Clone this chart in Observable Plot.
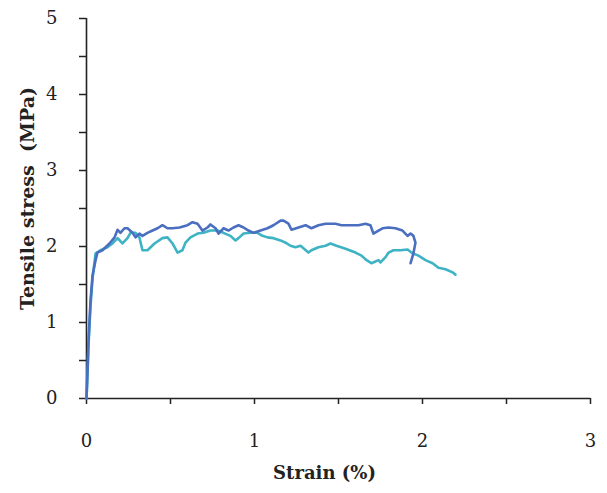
<!DOCTYPE html>
<html>
<head>
<meta charset="utf-8">
<script src="https://cdn.jsdelivr.net/npm/d3@7"></script>
<script src="https://cdn.jsdelivr.net/npm/@observablehq/plot@0.6"></script>
<style>
  html, body { margin: 0; padding: 0; background: #fff; }
</style>
</head>
<body>
<div id="chart"></div>
<script>
const xTicks = [0, 0.5, 1, 1.5, 2, 2.5, 3];
const yTicks = [0, 0.5, 1, 1.5, 2, 2.5, 3, 3.5, 4, 4.5, 5];
const xLabel = "Strain (%)";
const yLabel = "Tensile stress  (MPa)";

const blueStrain = [0, 0.006, 0.012, 0.024, 0.036, 0.054, 0.065, 0.095, 0.137, 0.167, 0.185, 0.202, 0.226, 0.244, 0.274, 0.292, 0.315, 0.333, 0.363, 0.393, 0.423, 0.452, 0.482, 0.512, 0.554, 0.601, 0.631, 0.661, 0.690, 0.720, 0.738, 0.768, 0.786, 0.815, 0.845, 0.875, 0.905, 0.935, 0.964, 0.994, 1.036, 1.077, 1.113, 1.155, 1.173, 1.202, 1.220, 1.262, 1.304, 1.339, 1.381, 1.423, 1.482, 1.518, 1.577, 1.619, 1.661, 1.690, 1.708, 1.738, 1.762, 1.798, 1.839, 1.881, 1.911, 1.929, 1.946, 1.958, 1.946, 1.929];
const blueStress = [0, 0.37, 0.76, 1.29, 1.62, 1.82, 1.92, 1.95, 2.04, 2.12, 2.22, 2.18, 2.24, 2.24, 2.18, 2.12, 2.17, 2.14, 2.18, 2.21, 2.24, 2.28, 2.24, 2.24, 2.25, 2.28, 2.32, 2.30, 2.21, 2.25, 2.29, 2.24, 2.17, 2.24, 2.21, 2.25, 2.28, 2.25, 2.21, 2.18, 2.21, 2.24, 2.28, 2.34, 2.34, 2.30, 2.22, 2.25, 2.28, 2.24, 2.28, 2.30, 2.30, 2.28, 2.28, 2.28, 2.30, 2.28, 2.17, 2.21, 2.24, 2.25, 2.24, 2.21, 2.14, 2.17, 2.14, 2.05, 1.91, 1.78];

const cyanStrain = [0, 0.006, 0.012, 0.024, 0.036, 0.054, 0.083, 0.125, 0.155, 0.185, 0.214, 0.244, 0.262, 0.292, 0.315, 0.333, 0.363, 0.405, 0.452, 0.482, 0.512, 0.542, 0.571, 0.589, 0.619, 0.661, 0.696, 0.738, 0.780, 0.815, 0.857, 0.887, 0.905, 0.935, 0.976, 1.018, 1.048, 1.077, 1.113, 1.155, 1.185, 1.214, 1.244, 1.274, 1.321, 1.339, 1.381, 1.423, 1.452, 1.488, 1.542, 1.601, 1.637, 1.667, 1.696, 1.738, 1.750, 1.780, 1.798, 1.827, 1.869, 1.911, 1.940, 1.976, 2.018, 2.060, 2.095, 2.137, 2.179, 2.196];
const cyanStress = [0, 0.30, 0.70, 1.22, 1.58, 1.91, 1.95, 1.99, 2.04, 2.11, 2.04, 2.11, 2.18, 2.18, 2.12, 1.95, 1.95, 2.04, 2.11, 2.12, 2.04, 1.92, 1.95, 2.05, 2.12, 2.17, 2.18, 2.21, 2.21, 2.18, 2.14, 2.08, 2.11, 2.17, 2.18, 2.18, 2.14, 2.12, 2.11, 2.08, 2.05, 2.01, 1.99, 2.01, 1.92, 1.95, 1.99, 2.01, 2.04, 2.01, 1.97, 1.92, 1.88, 1.82, 1.78, 1.82, 1.79, 1.86, 1.92, 1.95, 1.95, 1.96, 1.91, 1.88, 1.82, 1.78, 1.72, 1.70, 1.66, 1.63];

const blue = blueStrain.map((x, i) => ({x, y: blueStress[i]}));
const cyan = cyanStrain.map((x, i) => ({x, y: cyanStress[i]}));

const fmt = d => Number.isInteger(d) ? String(d) : "";

const chart = Plot.plot({
  width: 607,
  height: 493,
  marginLeft: 86,
  marginRight: 17,
  marginTop: 18,
  marginBottom: 95,
  x: {domain: [0, 3]},
  y: {domain: [0, 5]},
  style: {fontFamily: "DejaVu Serif", fontSize: "18px", color: "#222", background: "#fff"},
  marks: [
    Plot.axisX({ticks: xTicks, tickFormat: fmt, tickSize: 6, tickPadding: 30, label: null, fontSize: 18, strokeWidth: 1.5}),
    Plot.axisY({ticks: yTicks, tickFormat: fmt, tickSize: 7, tickPadding: 22, label: null, fontSize: 18, strokeWidth: 1.5}),
    Plot.ruleX([0], {stroke: "#222", strokeWidth: 1.6}),
    Plot.ruleY([0], {stroke: "#222", strokeWidth: 1.6}),
    Plot.line(cyan, {x: "x", y: "y", stroke: "#3db3c4", strokeWidth: 2.6}),
    Plot.line(blue, {x: "x", y: "y", stroke: "#4a6ec0", strokeWidth: 2.6}),
    Plot.text([xLabel], {frameAnchor: "bottom", dx: -14, dy: 80, text: d => d, textAnchor: "middle", fontWeight: "bold", fontSize: 18, fill: "#222"}),
    Plot.text([yLabel], {frameAnchor: "left", dx: -59, dy: -10, rotate: -90, text: d => d, textAnchor: "middle", fontWeight: "bold", fontSize: 19, fill: "#222"})
  ]
});
document.getElementById("chart").appendChild(chart);
</script>
</body>
</html>
